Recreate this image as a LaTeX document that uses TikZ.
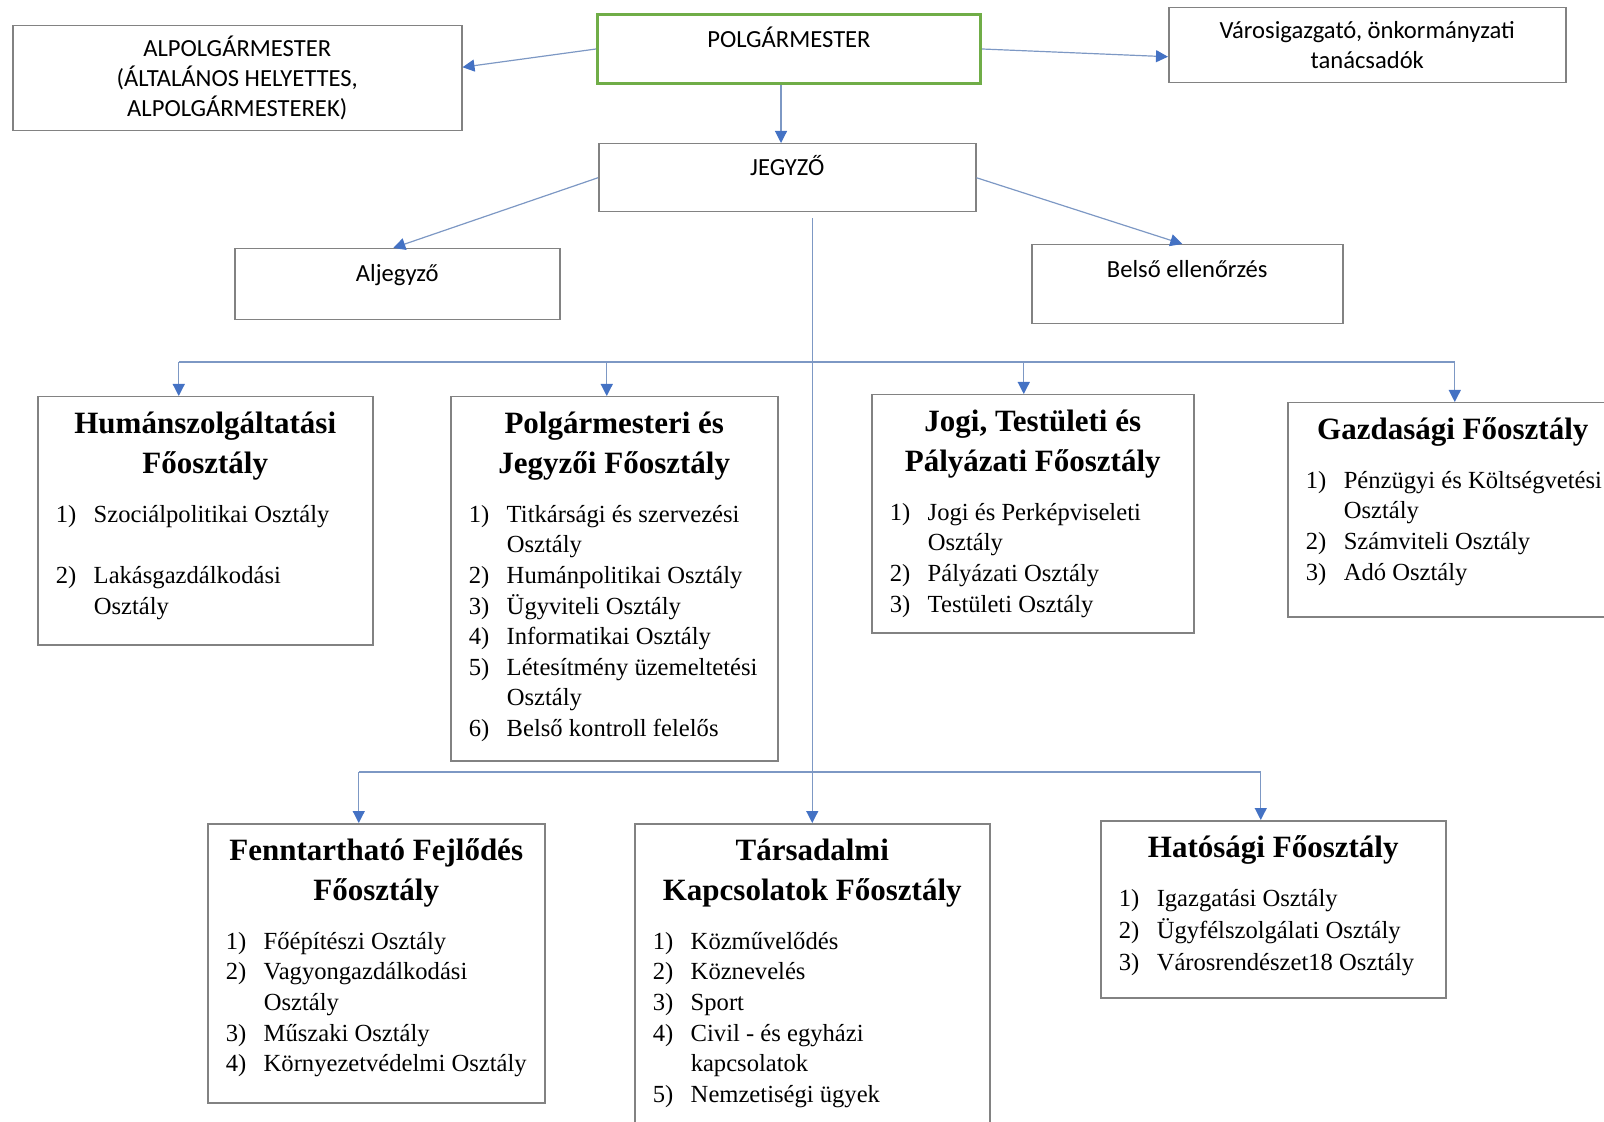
\documentclass[tikz,border=0pt]{standalone}
\usepackage{fontspec}
\setmainfont{Liberation Serif}
\newfontfamily\calibri{Carlito}
\usetikzlibrary{positioning}
\usetikzlibrary{arrows.meta}

\definecolor{boxgray}{RGB}{130,130,130}
\definecolor{mayorgreen}{RGB}{112,173,71}
\definecolor{linkblue}{RGB}{125,152,196}
\definecolor{tipblue}{RGB}{68,114,196}

\newcommand{\deptbody}[3]{\parbox[c][#2][t]{#1}{#3}}
\newcommand{\depttitle}[1]{{\centering\fontsize{15.5}{20}\selectfont\bfseries\rule{0pt}{18.5pt}#1\par}}
\newcommand{\deptlist}[1]{\par\vspace{9pt}{\fontsize{12.3}{15.3}\selectfont\noindent\begin{tabular}[t]{@{}p{19pt}@{}l@{}}#1\end{tabular}\par}}

\begin{document}
\begin{tikzpicture}[x=0.5pt, y=-0.5pt,
    office/.style={draw=boxgray, line width=0.75pt, inner sep=0pt, anchor=north west, align=center, font=\calibri\fontsize{12.3}{15}\selectfont},
    dept/.style={draw=boxgray, line width=0.75pt, inner xsep=9pt, inner ysep=0pt, anchor=north west},
    link/.style={draw=linkblue, line width=0.6pt},
    conn/.style={link, -{Triangle[length=6pt, width=6pt, color=tipblue]}}]
    \useasboundingbox (0,0) rectangle (1604,1122);

    % top level
    \node[office, draw=mayorgreen, line width=1.5pt, minimum width=191.5pt, text height=16.5pt, text depth=18pt] (polg) at (596,13) {POLGÁRMESTER};
    \node[office, minimum width=224.5pt, minimum height=52.5pt] (alpolg) at (12,25) {ALPOLGÁRMESTER\\(ÁLTALÁNOS HELYETTES,\\ALPOLGÁRMESTEREK)};
    \node[office, minimum width=198.5pt, minimum height=37.5pt] (varos) at (1168,7) {Városigazgató, önkormányzati\\tanácsadók};
    \node[office, minimum width=188.5pt, text height=16pt, text depth=18pt] (jegyzo) at (598,143) {JEGYZŐ};
    \node[office, minimum width=162.5pt, text height=16.5pt, text depth=19pt] (aljegyzo) at (234,248) {Aljegyző};
    \node[office, minimum width=155.5pt, text height=16.5pt, text depth=23pt] (belso) at (1031,244) {Belső ellenőrzés};

    % departments
    \node[dept] (hum) at (37,396) {\deptbody{149.5pt}{124pt}{\depttitle{Humánszolgáltatási\\Főosztály}\deptlist{1) & Szociálpolitikai Osztály\\[15.3pt] 2) & Lakásgazdálkodási\\ & Osztály}}};
    \node[dept] (polgd) at (450,396) {\deptbody{145.5pt}{182pt}{\depttitle{Polgármesteri és\\Jegyzői Főosztály}\deptlist{1) & Titkársági és szervezési\\ & Osztály\\ 2) & Humánpolitikai Osztály\\ 3) & Ügyviteli Osztály\\ 4) & Informatikai Osztály\\ 5) & Létesítmény üzemeltetési\\ & Osztály\\ 6) & Belső kontroll felelős}}};
    \node[dept] (jogi) at (871,394) {\deptbody{143pt}{119pt}{\depttitle{Jogi, Testületi és\\Pályázati Főosztály}\deptlist{1) & Jogi és Perképviseleti\\ & Osztály\\ 2) & Pályázati Osztály\\ 3) & Testületi Osztály}}};
    \node[dept] (gazd) at (1287,402) {\deptbody{147pt}{107pt}{\depttitle{Gazdasági Főosztály}\deptlist{1) & Pénzügyi és Költségvetési\\ & Osztály\\ 2) & Számviteli Osztály\\ 3) & Adó Osztály}}};
    \node[dept] (fennt) at (207,823) {\deptbody{150.5pt}{139.5pt}{\depttitle{Fenntartható Fejlődés\\Főosztály}\deptlist{1) & Főépítészi Osztály\\ 2) & Vagyongazdálkodási\\ & Osztály\\ 3) & Műszaki Osztály\\ 4) & Környezetvédelmi Osztály}}};
    \node[dept] (tars) at (634,823) {\deptbody{159.5pt}{165pt}{\depttitle{Társadalmi\\Kapcsolatok Főosztály}\deptlist{1) & Közművelődés\\ 2) & Köznevelés\\ 3) & Sport\\ 4) & Civil - és egyházi\\ & kapcsolatok\\ 5) & Nemzetiségi ügyek}}};
    \node[dept] (hat) at (1100,820) {\deptbody{154.5pt}{88.5pt}{\depttitle{Hatósági Főosztály}\renewcommand{\arraystretch}{1.04}\deptlist{1) & Igazgatási Osztály\\ 2) & Ügyfélszolgálati Osztály\\ 3) & Városrendészet18 Osztály}}};

    % connectors
    \draw[conn] (polg.west) -- ([yshift=5.5pt]alpolg.east);
    \draw[conn] (polg.east) -- ([yshift=-5.75pt]varos.west);
    \draw[conn] ([xshift=-4pt]polg.south) -- ([xshift=-4pt]polg.south |- jegyzo.north);
    \draw[conn] (jegyzo.west) -- ([xshift=-2pt]aljegyzo.north);
    \draw[conn] (jegyzo.east) -- ([xshift=-2.5pt]belso.north);

    \coordinate (bus1) at (813,362);
    \coordinate (bus2) at (813,772);
    \draw[conn] ([yshift=-3pt]jegyzo.south -| tars.north) -- (tars.north);
    \draw[link] ([xshift=-13.25pt]hum.north |- bus1) -- ([xshift=1pt]gazd.north |- bus1);
    \foreach \dep/\dx in {hum/-13.25pt, polgd/-3.75pt, jogi/-4.5pt, gazd/1pt}
        \draw[conn] ([xshift=\dx]\dep.north |- bus1) -- ([xshift=\dx]\dep.north);
    \draw[link] ([xshift=-8.75pt]fennt.north |- bus2) -- ([xshift=-6.25pt]hat.north |- bus2);
    \foreach \dep/\dx in {fennt/-8.75pt, hat/-6.25pt}
        \draw[conn] ([xshift=\dx]\dep.north |- bus2) -- ([xshift=\dx]\dep.north);
\end{tikzpicture}
\end{document}
